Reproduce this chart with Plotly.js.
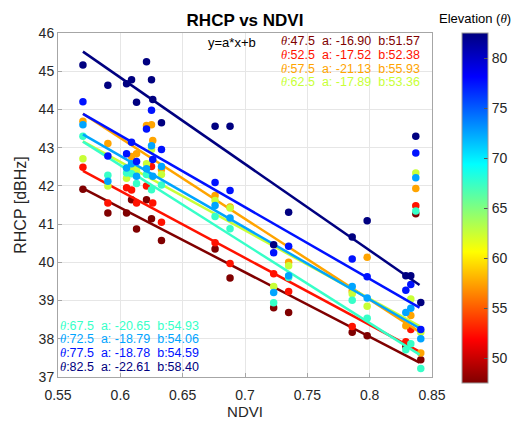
<!DOCTYPE html>
<html><head><meta charset="utf-8">
<script src="https://cdn.plot.ly/plotly-3.0.1.min.js"></script>
<style>html,body{margin:0;padding:0;background:#fff}#chart{width:512px;height:426px}</style>
</head><body><div id="chart"></div>
<script>
// ---- data ----
const elevations = [47.5, 52.5, 57.5, 62.5, 67.5, 72.5, 77.5, 82.5];
const slopeA     = [-16.90, -17.52, -21.13, -17.89, -20.65, -18.79, -18.78, -22.61];
const interceptB = [51.57, 52.38, 55.93, 53.36, 54.93, 54.06, 54.59, 58.40];
const fitRange   = [0.57, 0.84];
const ndvi = [0.570, 0.590, 0.605, 0.609, 0.613, 0.621, 0.625, 0.626, 0.633, 0.676, 0.688, 0.723, 0.735, 0.786, 0.798, 0.829, 0.833, 0.837, 0.841];
const rhcp_47_5 = [41.91, 41.29, 41.29, 41.64, 40.87, 41.64, 41.14, null, 40.57, 40.35, 39.59, 38.81, 38.69, 38.17, 38.08, 37.80, null, 41.27, 37.45];
const rhcp_52_5 = [42.49, 41.55, 41.95, 41.89, 41.55, 42.00, 42.51, 41.55, 41.05, 40.51, 39.97, 39.70, 39.24, 38.32, null, 37.92, 38.24, 41.48, null];
const rhcp_57_5 = [43.69, 43.11, null, 42.77, 42.84, 43.58, 43.60, 43.19, 42.43, 41.75, 41.45, null, 40.00, 39.25, 40.13, 38.34, 38.61, 41.93, 37.63];
const rhcp_62_5 = [42.71, 42.00, 42.20, 42.48, 42.43, 42.58, 42.95, null, 42.30, 41.62, 41.42, 39.37, 39.91, 39.18, 38.85, null, 39.04, 42.34, 38.17];
const rhcp_67_5 = [43.30, 42.28, 42.34, 42.32, 42.06, 42.30, 41.90, null, 42.02, 41.20, 40.88, 38.94, 39.60, 39.01, 38.54, 37.71, 37.87, 41.34, 37.22];
const rhcp_72_5 = [43.60, 42.12, 42.47, 42.58, 42.25, 42.45, 43.05, 42.25, 42.51, 41.49, 41.16, 39.21, 39.65, 39.37, 39.07, 38.69, 38.80, 42.21, 38.00];
const rhcp_77_5 = [44.20, 42.78, 42.84, 43.14, 42.64, 43.49, 43.98, 42.69, 42.95, 42.09, 41.88, 40.25, 40.42, 40.09, 39.62, 39.27, 39.42, 42.86, 38.24];
const rhcp_82_5 = [45.16, 44.63, 44.67, 44.78, 44.19, 45.25, 44.78, 44.26, 43.65, 43.56, 43.56, 40.46, 41.31, 40.66, 41.09, 39.65, 39.65, 43.30, 38.95];
const rhcpSeries = [rhcp_47_5, rhcp_52_5, rhcp_57_5, rhcp_62_5, rhcp_67_5, rhcp_72_5, rhcp_77_5, rhcp_82_5];
const colorTicks = [50, 55, 60, 65, 70, 75, 80];

// ---- style ----
const colors = ['rgb(128,0,0)','rgb(255,18,0)','rgb(255,164,0)','rgb(200,255,55)','rgb(55,255,200)','rgb(0,164,255)','rgb(0,18,255)','rgb(0,0,128)'];
const jetScale = [[0,'rgb(128,0,0)'],[0.125,'rgb(255,0,0)'],[0.375,'rgb(255,255,0)'],[0.625,'rgb(0,255,255)'],[0.875,'rgb(0,0,255)'],[1,'rgb(0,0,128)']];
const FONT = 'Liberation Sans, Arial, sans-serif';
const TH = '<span style="font-family:\'Liberation Serif\',serif"><i>θ</i></span>';

const px2x = px => (px - 58) / 374;
const py2y = py => (377 - py) / 344;

const traces = [];
elevations.forEach((e, i) => {
  traces.push({
    type: 'scatter', mode: 'markers', x: ndvi, y: rhcpSeries[i],
    marker: {size: 7.5, color: ndvi.map(() => e), cmin: 47.5, cmax: 82.5, colorscale: jetScale,
      showscale: i === 0,
      colorbar: i === 0 ? {
        x: px2x(462), xanchor: 'left', y: py2y(208), yanchor: 'middle', len: 350 / 344, lenmode: 'fraction',
        thickness: 26, thicknessmode: 'pixels', outlinewidth: 1, outlinecolor: '#9a9a9a',
        tickvals: colorTicks, ticks: 'inside', ticklen: 4, tickcolor: '#555',
        tickfont: {family: FONT, size: 14, color: '#262626'}, xpad: 0, ypad: 0
      } : undefined},
    hoverinfo: 'skip', showlegend: false
  });
  traces.push({
    type: 'scatter', mode: 'lines', x: fitRange, y: fitRange.map(x => slopeA[i] * x + interceptB[i]),
    line: {color: colors[i], width: 2.5}, hoverinfo: 'skip', showlegend: false
  });
});

const annotations = [];
annotations.push({text: 'y=a*x+b', xref: 'paper', yref: 'paper', x: px2x(206), y: py2y(42.5), xanchor: 'left', yanchor: 'middle',
  showarrow: false, font: {family: FONT, size: 13, color: '#000'}});
elevations.forEach((e, i) => {
  const top = i < 4;
  const row = top ? i : i - 4;
  annotations.push({
    text: TH + ':' + e.toFixed(1) + '  a: ' + slopeA[i].toFixed(2) + '  b:' + interceptB[i].toFixed(2),
    xref: 'paper', yref: 'paper',
    x: top ? px2x(280) : px2x(59), y: top ? py2y(41 + row * 13.8) : py2y(325.5 + row * 13.8),
    xanchor: 'left', yanchor: 'middle', showarrow: false, borderpad: 0,
    font: {family: FONT, size: 12.5, color: colors[i]}});
});
annotations.push({text: 'Elevation (' + TH + ')', xref: 'paper', yref: 'paper', x: px2x(437), y: py2y(19),
  xanchor: 'left', yanchor: 'middle', showarrow: false, font: {family: FONT, size: 13, color: '#000'}});

const layout = {
  width: 512, height: 426,
  margin: {l: 58, r: 80, t: 33, b: 49, pad: 0, autoexpand: false},
  paper_bgcolor: '#fff', plot_bgcolor: '#fff',
  font: {family: FONT, color: '#262626'},
  title: {text: '<b>RHCP vs NDVI</b>', xref: 'paper', x: 0.5, xanchor: 'center', yref: 'container', y: 1 - 20 / 426, yanchor: 'middle',
    font: {family: FONT, size: 17, color: '#000'}},
  xaxis: {range: [0.55, 0.85], tick0: 0.55, dtick: 0.05, showgrid: true, gridcolor: '#e6e6e6', zeroline: false,
    showline: true, mirror: true, linecolor: '#a6a6a6', linewidth: 1, ticks: 'inside', ticklen: 4, tickcolor: '#a6a6a6',
    tickfont: {family: FONT, size: 14, color: '#262626'}, automargin: false, ticklabelstandoff: 5,
    title: {text: 'NDVI', font: {family: FONT, size: 15, color: '#262626'}, standoff: 1}},
  yaxis: {range: [37, 46], dtick: 1, showgrid: true, gridcolor: '#e6e6e6', zeroline: false,
    showline: true, mirror: true, linecolor: '#a6a6a6', linewidth: 1, ticks: 'inside', ticklen: 4, tickcolor: '#a6a6a6',
    tickfont: {family: FONT, size: 14, color: '#262626'}, automargin: false,
    title: {text: 'RHCP [dBHz]', font: {family: FONT, size: 16, color: '#262626'}, standoff: 8}},
  annotations: annotations,
  showlegend: false
};
Plotly.newPlot('chart', traces, layout, {displayModeBar: false, staticPlot: true});
</script></body></html>
